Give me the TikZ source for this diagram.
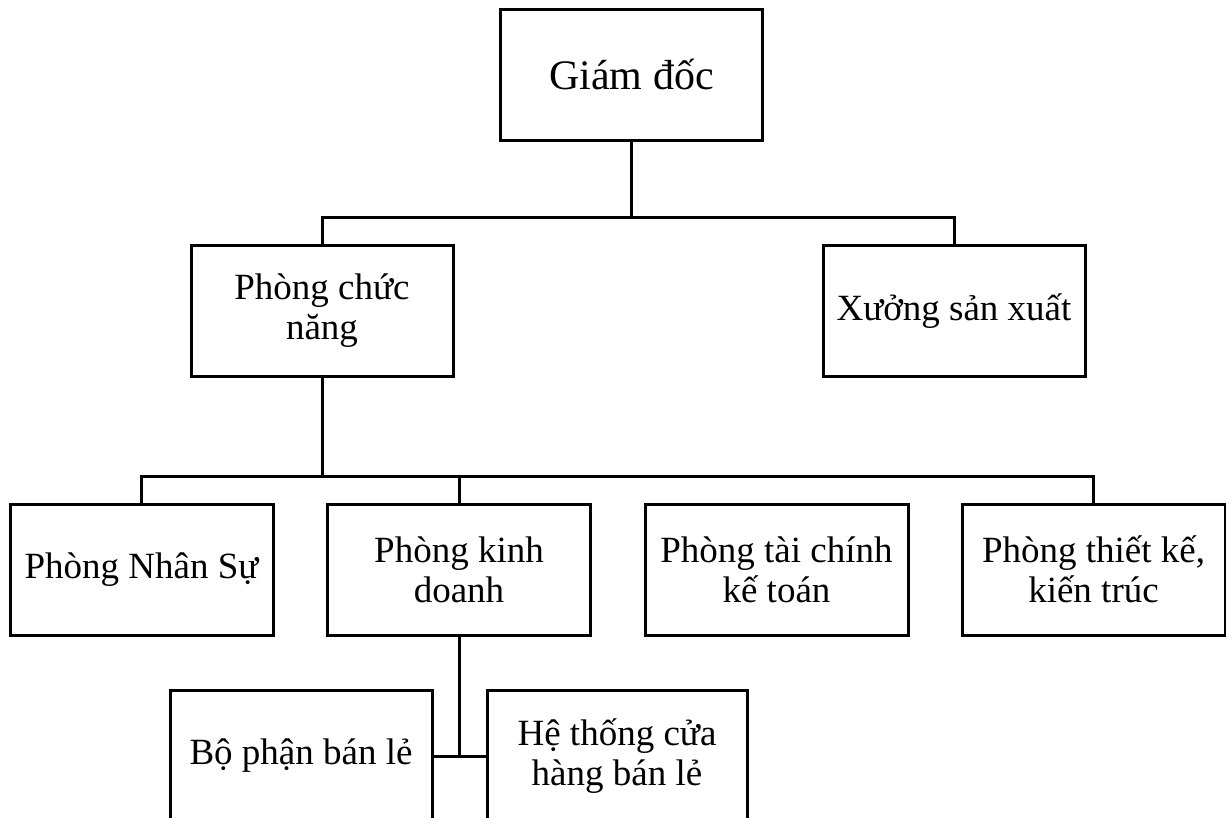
\documentclass[tikz,border=0pt]{standalone}
\usepackage{fontspec}
\setmainfont{Liberation Serif}
\begin{document}
\begin{tikzpicture}[x=1pt,y=-1pt,
  box/.style={draw, line width=3pt, minimum width=262pt, minimum height=131pt,
    inner sep=0pt, align=center, font=\fontsize{37}{40}\selectfont},
  link/.style={line width=3pt, line cap=rect}]
\useasboundingbox (0,0) rectangle (1226,818);
\fill[white] (0,0) rectangle (1226,818);
% level 0
\node[box, font=\fontsize{42}{46}\selectfont] (gd) at (631.5,75) {Giám đốc};
% level 1
\node[box] (pcn) at (322,311) {Phòng chức\\năng};
\node[box] (xsx) at (954,311) {Xưởng sản xuất};
% level 2
\node[box, minimum width=263pt] (ns) at (141.5,569.5) {Phòng Nhân Sự};
\node[box, minimum width=263pt] (kd) at (459,569.5) {Phòng kinh\\doanh};
\node[box, minimum width=263pt] (tc) at (776.5,569.5) {Phòng tài chính\\kế toán};
\node[box, minimum width=263pt] (tk) at (1093.5,569.5) {Phòng thiết kế,\\kiến trúc};
% level 3
\node[box] (bp) at (301,756) {Bộ phận bán lẻ};
\node[box, minimum width=260pt] (ht) at (617,756) {Hệ thống cửa\\hàng bán lẻ};
% connectors
\coordinate (b1) at (631.5,218);
\coordinate (b2) at (322,476);
\draw[link] (gd.south) -- (b1);
\draw[link] (pcn.north) |- (b1) -| (xsx.north);
\draw[link] (pcn.south) -- (b2);
\draw[link] (ns.north) |- (b2) -| (tk.north);
\draw[link] (kd.north) -- (kd.north |- b2);
\draw[link] (kd.south) -- (kd.south |- bp.east);
\draw[link] (bp.east) -- (ht.west);
\end{tikzpicture}
\end{document}
